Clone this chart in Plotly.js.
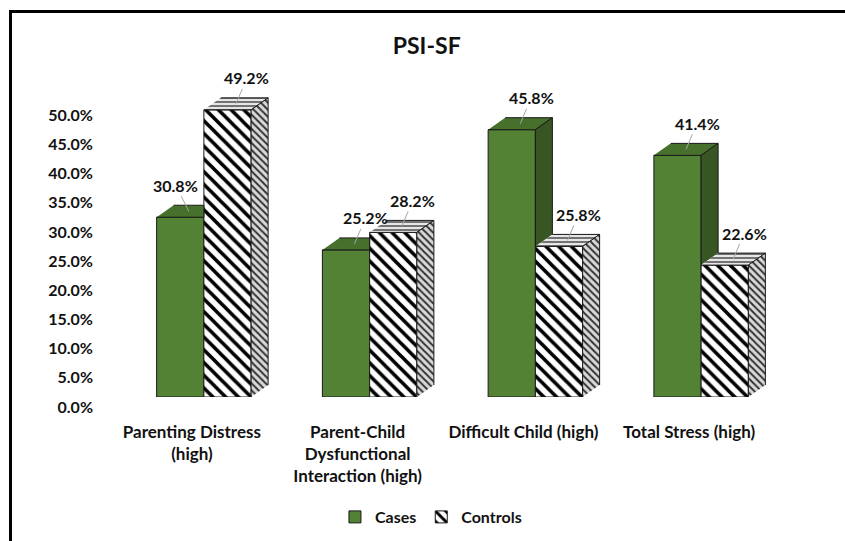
<!DOCTYPE html>
<html>
<head>
<meta charset="utf-8">
<script src="https://cdn.plot.ly/plotly-3.0.1.min.js"></script>
<style>
  html, body { margin: 0; padding: 0; background: #fff; }
  #wrap { position: relative; width: 845px; height: 541px; overflow: hidden; }
  #chart { width: 845px; height: 541px; }
  #frame { position: absolute; left: 9px; top: 10px; width: 900px; height: 600px;
           border-left: 3px solid #000; border-top: 3px solid #000; pointer-events: none; }
</style>
</head>
<body>
<div id="wrap">
  <div id="chart"></div>
  <div id="frame"></div>
</div>
<script>
// ---- data ----
const categories = [
  'Parenting Distress<br>(high)',
  'Parent-Child<br>Dysfunctional<br>Interaction (high)',
  'Difficult Child (high)',
  'Total Stress (high)'
];
const cases    = [0.308, 0.252, 0.458, 0.414];
const controls = [0.492, 0.282, 0.258, 0.226];
const seriesNames = ['Cases', 'Controls'];
const yTicks = [0, 0.05, 0.10, 0.15, 0.20, 0.25, 0.30, 0.35, 0.40, 0.45, 0.50];

// ---- geometry / style ----
const W_PX = 845, H_PX = 541;
const M = {l: 121, r: 61, t: 76, b: 144};
const XRANGE = [-0.5, 3.5], YRANGE = [0, 0.55];
const BARGAP = 0.43;
const BW = (1 - BARGAP) / 2;
const pxPerX = (W_PX - M.l - M.r) / (XRANGE[1] - XRANGE[0]);
const pxPerY = (H_PX - M.t - M.b) / (YRANGE[1] - YRANGE[0]);
const DX = 17 / pxPerX;   // depth offset in x units
const DY = 12 / pxPerY;   // depth offset in y units
const FONT = 'Lato, "Open Sans", sans-serif';
const GREEN = '#548235', GREEN_TOP = '#46702c', GREEN_SIDE = '#375623';

const xs = categories.map((_, i) => i);

// 3D faces built from the data values
function poly(arr, pts) { pts.forEach(p => { arr.x.push(p[0]); arr.y.push(p[1]); }); arr.x.push(null); arr.y.push(null); }
const cTop = {x: [], y: []}, cSide = {x: [], y: []}, kTop = {x: [], y: []}, kSide = {x: [], y: []};
xs.forEach(i => {
  const v = cases[i], c = controls[i];
  const s = i - BW, e = i, r = i + BW;
  if (c >= v + DY) poly(cTop, [[s, v], [e, v], [e, v + DY], [s + DX, v + DY]]);
  else poly(cTop, [[s, v], [e, v], [e + DX, v + DY], [s + DX, v + DY]]);
  if (v > c) poly(cSide, [[e, c], [e, v], [e + DX, v + DY], [e + DX, c + DY]]);
  poly(kTop, [[e, c], [r, c], [r + DX, c + DY], [e + DX, c + DY]]);
  poly(kSide, [[r, 0], [r, c], [r + DX, c + DY], [r + DX, DY]]);
});

function face(d, fill, pattern) {
  const t = {type: 'scatter', mode: 'lines', x: d.x, y: d.y, fill: 'toself',
    fillcolor: fill, line: {color: '#1a1a1a', width: 1}, hoverinfo: 'skip', showlegend: false};
  if (pattern) t.fillpattern = pattern;
  return t;
}

const traces = [
  {type: 'bar', x: xs, y: cases, name: seriesNames[0],
   marker: {color: GREEN, line: {color: '#1a1a1a', width: 1}}, hoverinfo: 'skip'},
  {type: 'bar', x: xs, y: controls, name: seriesNames[1],
   marker: {color: '#ffffff', line: {color: '#1a1a1a', width: 1},
            pattern: {shape: '\\', fgcolor: '#000', bgcolor: '#fff', size: 9, solidity: 0.4}},
   hoverinfo: 'skip'},
  face(cTop, GREEN_TOP),
  face(cSide, GREEN_SIDE),
  face(kTop, '#e6e6e6', {shape: '-', fgcolor: '#555', bgcolor: '#e6e6e6', size: 4, solidity: 0.4}),
  face(kSide, '#d9d9d9', {shape: '\\', fgcolor: '#333', bgcolor: '#d9d9d9', size: 5, solidity: 0.4})
];

const annotations = [];
[cases, controls].forEach((vals, k) => {
  vals.forEach((v, i) => {
    // a Cases label steps left when the neighbouring Controls bar is much taller
    const blocked = (k === 0 && controls[i] - v > 0.05);
    annotations.push({
      x: i + (k === 0 ? -BW / 2 : BW / 2) + DX / 2, y: v + DY / 2,
      text: (v * 100).toFixed(1) + '%', showarrow: true, arrowhead: 0, arrowwidth: 1,
      arrowcolor: '#a6a6a6', ax: blocked ? -13 : 11, ay: -26, standoff: 0,
      font: {family: FONT, size: 16, weight: 700, color: '#111'}
    });
  });
});

const layout = {
  width: W_PX, height: H_PX, margin: M,
  paper_bgcolor: '#fff', plot_bgcolor: '#fff',
  font: {family: FONT, size: 16, weight: 700, color: '#111'},
  title: {text: 'PSI-SF', font: {family: FONT, size: 23, weight: 700, color: '#111'}, automargin: false,
          xref: 'container', x: 0.505, xanchor: 'center', yref: 'container', y: 1 - 46 / H_PX, yanchor: 'middle'},
  barmode: 'group', bargap: BARGAP, bargroupgap: 0,
  xaxis: {range: XRANGE, tickvals: xs, ticktext: categories, showgrid: false, zeroline: false,
          showline: false, ticks: '', ticklabelshift: -12, ticklabelstandoff: 23, automargin: false,
          tickfont: {family: FONT, size: 17, weight: 700, color: '#111'}, fixedrange: true},
  yaxis: {range: YRANGE, tickvals: yTicks, tickformat: '.1%', showgrid: false, zeroline: false,
          showline: false, ticks: '', ticklabelshift: 10, ticklabelstandoff: 27, automargin: false,
          tickfont: {family: FONT, size: 16, weight: 700, color: '#111'}, fixedrange: true},
  showlegend: true,
  legend: {orientation: 'h', xref: 'container', x: 0.51, xanchor: 'center',
           yref: 'container', y: 1 - 517 / H_PX, yanchor: 'middle', itemwidth: 30,
           font: {family: FONT, size: 16, weight: 700, color: '#111'}, traceorder: 'normal'},
  annotations: annotations
};

Plotly.newPlot('chart', traces, layout, {displayModeBar: false, staticPlot: true});
</script>
</body>
</html>
